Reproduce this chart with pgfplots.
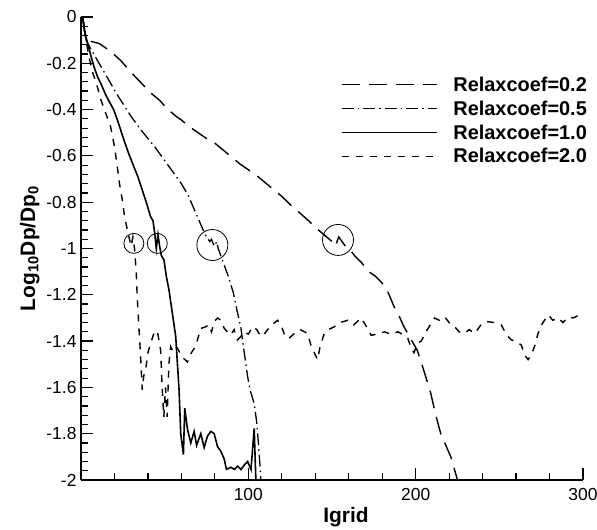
\documentclass[border=0pt]{standalone}
\usepackage{fontspec}
\setmainfont{Liberation Sans}
\usepackage{pgfplots}
\pgfplotsset{compat=1.18}
\begin{document}
\begin{tikzpicture}
\begin{axis}[
  scale only axis,
  width=502bp, height=463bp,
  at={(0,0)}, anchor=south west,
  xmin=0, xmax=300, ymin=-2, ymax=0,
  axis lines=left,
  axis line style={line width=1.8bp, -},
  xtick={100,200,300},
  minor xtick={20,40,60,80,120,140,160,180,220,240,260,280},
  ytick={0,-0.2,-0.4,-0.6,-0.8,-1,-1.2,-1.4,-1.6,-1.8,-2},
  minor ytick={-0.04,-0.08,...,-1.96},
  tick align=inside,
  major tick length=12bp, minor tick length=7bp,
  every tick/.style={black, line width=1.2bp},
  /pgf/number format/assume math mode=true,
  ticklabel style={font=\fontsize{17.5}{21}\selectfont},
  yticklabel style={xshift=-1bp},
  xticklabel style={yshift=-5bp},
  xlabel={\textbf{Igrid}},
  ylabel={\textbf{Log\textsubscript{10}Dp/Dp\textsubscript{0}}},
  label style={font=\fontsize{21}{24}\selectfont},
  xlabel style={yshift=0bp, xshift=14bp},
  ylabel style={yshift=0bp},
  legend cell align=left,
  legend style={draw=none, fill=none, at={(1.018,0.88)}, anchor=north east,
    font=\fontsize{20}{24}\selectfont\bfseries, row sep=4bp,
    /tikz/every odd column/.append style={column sep=14bp}},
  legend image code/.code={\draw[#1] (0bp,0bp) -- (95bp,0bp);},
]
\addplot[black, line width=1.4bp, dash pattern=on 18bp off 9bp] coordinates {
(1,0) (3,-0.09) (6,-0.105) (11,-0.115) (16,-0.14) (21,-0.17) (24,-0.19) (27,-0.215) (30,-0.24) (34,-0.27) (38,-0.30) (42,-0.33) (47,-0.36) (52,-0.40) (57,-0.43) (60,-0.445) (65,-0.475) (70,-0.50) (75,-0.525) (80,-0.545) (85,-0.575) (90,-0.605) (95,-0.635) (100,-0.66) (105,-0.685) (110,-0.715) (115,-0.745) (120,-0.775) (125,-0.81) (131,-0.848) (136,-0.88) (141,-0.915) (146,-0.945) (150,-0.97) (152,-0.99) (154,-0.95) (156,-0.97) (158,-0.99) (160,-1.0) (164,-1.035) (168,-1.064) (172,-1.10) (176,-1.12) (180,-1.15) (183,-1.18) (187,-1.25) (190,-1.29) (193,-1.338) (197,-1.39) (201,-1.44) (205,-1.53) (209,-1.625) (212,-1.72) (215,-1.80) (218,-1.85) (221,-1.90) (223,-1.95) (225,-2.0)
};
\addlegendentry{Relaxcoef=0.2}
\addplot[black, line width=1.3bp, dash pattern=on 12bp off 4bp on 1.5bp off 4bp] coordinates {
(1,0) (3,-0.1) (6,-0.14) (10,-0.19) (14,-0.24) (18,-0.29) (22,-0.34) (26,-0.385) (30,-0.43) (35,-0.48) (40,-0.525) (44,-0.56) (48,-0.60) (52,-0.64) (56,-0.68) (60,-0.72) (64,-0.77) (67,-0.82) (70,-0.87) (73,-0.92) (75,-0.95) (77,-0.97) (78,-0.96) (79,-0.98) (80,-0.99) (81,-0.97) (82,-1.0) (84,-1.04) (86,-1.08) (88,-1.12) (91,-1.19) (93,-1.26) (95.5,-1.34) (97,-1.42) (99.5,-1.55) (101,-1.61) (103.5,-1.67) (105,-1.75) (106,-1.84) (107,-1.94) (107.5,-2.0)
};
\addlegendentry{Relaxcoef=0.5}
\addplot[black, line width=1.6bp] coordinates {
(1,0) (2,-0.06) (4,-0.114) (6,-0.17) (8,-0.22) (10,-0.26) (12,-0.29) (15,-0.34) (19.5,-0.40) (22,-0.45) (25.6,-0.53) (28,-0.58) (31.6,-0.647) (34,-0.69) (36.6,-0.747) (39,-0.80) (41.6,-0.863) (43,-0.88) (44,-0.93) (45,-1.0) (46,-0.94) (47,-0.99) (48,-1.03) (49.6,-1.05) (51,-1.12) (52.6,-1.18) (54.6,-1.28) (56.6,-1.38) (58.6,-1.61) (59.6,-1.80) (61.2,-1.89) (62,-1.69) (63.6,-1.78) (65.6,-1.84) (67.6,-1.79) (69.1,-1.85) (71.6,-1.80) (73.6,-1.86) (75.6,-1.81) (77.6,-1.79) (79.6,-1.80) (81.6,-1.856) (83.6,-1.876) (85.6,-1.91) (86.9,-1.954) (89.6,-1.945) (91.6,-1.954) (93.6,-1.94) (95.6,-1.955) (97.6,-1.935) (99.6,-1.92) (101.6,-1.955) (103.5,-1.777) (104.5,-2.0)
};
\addlegendentry{Relaxcoef=1.0}
\addplot[black, line width=1.4bp, dash pattern=on 7bp off 7bp] coordinates {
(1,0) (3,-0.1) (5,-0.18) (7,-0.24) (9.7,-0.30) (12,-0.36) (15,-0.42) (17.7,-0.474) (20,-0.56) (21.7,-0.647) (23,-0.72) (24.7,-0.79) (26,-0.86) (27.7,-0.92) (29,-0.96) (30,-0.99) (31,-0.95) (32,-1.0) (33,-1.1) (33.6,-1.21) (34.6,-1.338) (35.5,-1.45) (36.6,-1.61) (37.5,-1.55) (38.6,-1.525) (40,-1.45) (41.6,-1.41) (43.6,-1.366) (45.6,-1.355) (47.6,-1.44) (48.5,-1.60) (49.5,-1.727) (50.5,-1.60) (51.5,-1.727) (52.5,-1.50) (53.6,-1.424) (54.6,-1.44) (56,-1.42) (57.6,-1.43) (60.6,-1.47) (63.6,-1.49) (66,-1.45) (68.6,-1.42) (71.6,-1.345) (74,-1.34) (76.5,-1.33) (78,-1.36) (79.6,-1.316) (81.6,-1.30) (83.6,-1.31) (85.6,-1.345) (87.5,-1.36) (89.5,-1.373) (91.5,-1.35) (93.5,-1.395) (95.5,-1.38) (97.6,-1.36) (100,-1.37) (102.5,-1.338) (105,-1.35) (107.5,-1.38) (109.5,-1.37) (111.6,-1.35) (114,-1.33) (117.5,-1.31) (119.5,-1.33) (121.5,-1.37) (124,-1.39) (127.5,-1.367) (131,-1.35) (135.4,-1.367) (137.5,-1.42) (139.4,-1.45) (141.4,-1.48) (143,-1.42) (145.4,-1.367) (148,-1.35) (151.4,-1.338) (155,-1.32) (159.4,-1.31) (163,-1.33) (167.4,-1.30) (170,-1.33) (173.4,-1.375) (177,-1.37) (181.4,-1.36) (185,-1.37) (189.4,-1.36) (192,-1.37) (195.3,-1.388) (197.3,-1.43) (199,-1.45) (201,-1.41) (203.3,-1.40) (207,-1.35) (211.3,-1.30) (214,-1.31) (217.3,-1.295) (220,-1.32) (223.3,-1.338) (226,-1.36) (229.3,-1.367) (232,-1.35) (235.3,-1.367) (239,-1.33) (243.2,-1.316) (247,-1.32) (251.2,-1.33) (254,-1.37) (257.2,-1.395) (260,-1.40) (263.2,-1.418) (265,-1.46) (267.2,-1.48) (269,-1.46) (271.2,-1.42) (273,-1.37) (275.2,-1.33) (277,-1.31) (279.2,-1.287) (282,-1.31) (285.2,-1.30) (288,-1.32) (291.2,-1.296) (294,-1.30) (297,-1.29) (300,-1.296)
};
\addlegendentry{Relaxcoef=2.0}
\addplot[forget plot, only marks, mark=o, mark size=10bp, mark options={line width=0.8bp, black}] coordinates {(31.6,-0.978) (45.6,-0.978)};
\addplot[forget plot, only marks, mark=o, mark size=15.5bp, mark options={line width=0.8bp, black}] coordinates {(78.5,-0.985) (153.6,-0.963)};
\end{axis}
\pgfresetboundingbox
\path (-81bp,-50bp) rectangle (516bp,480bp);
\end{tikzpicture}
\end{document}
